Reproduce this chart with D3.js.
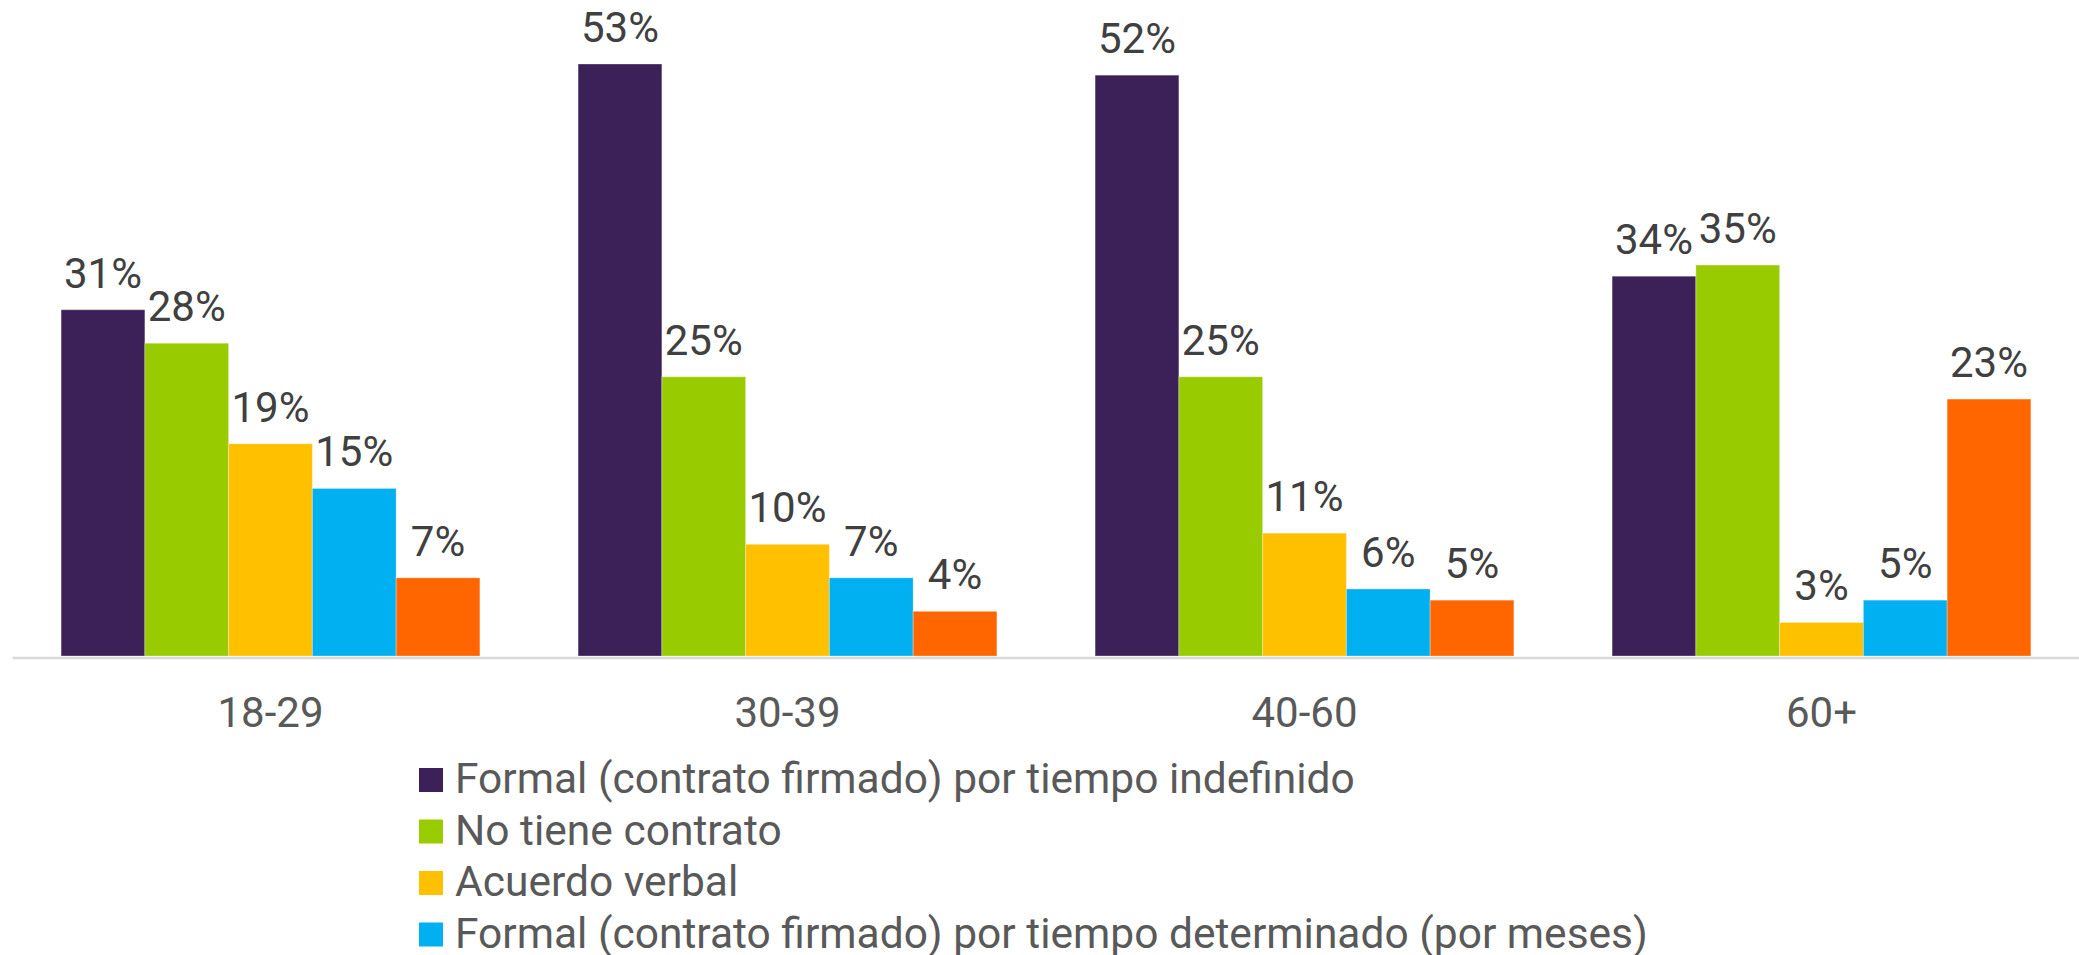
<!DOCTYPE html>
<html>
<head>
<meta charset="utf-8">
<script src="https://cdn.jsdelivr.net/npm/d3@7"></script>
<style>
  body { margin: 0; background: #fff; }
  svg { display: block; font-family: Roboto, "Noto Sans", sans-serif; }
</style>
</head>
<body>
<script>
const width = 2079;
const height = 955;

// data
const ageGroups = ["18-29", "30-39", "40-60", "60+"];
const seriesNames = [
  "Formal (contrato firmado) por tiempo indefinido",
  "No tiene contrato",
  "Acuerdo verbal",
  "Formal (contrato firmado) por tiempo determinado (por meses)",
  "Otro"
];
const seriesColors = ["#3c2058", "#99cc00", "#ffc000", "#00b0f0", "#ff6600"];
const indefinido = [31, 53, 52, 34];
const sinContrato = [28, 25, 25, 35];
const verbal = [19, 10, 11, 3];
const determinado = [15, 7, 6, 5];
const otro = [7, 4, 5, 23];

const seriesValues = [indefinido, sinContrato, verbal, determinado, otro];

let rows = [];
ageGroups.forEach((g, gi) => {
  seriesValues.forEach((vals, si) => {
    rows.push({ group: g, series: seriesNames[si], color: seriesColors[si], value: vals[gi] });
  });
});

let svg = d3
  .select("body")
  .append("svg")
  .attr("width", width)
  .attr("height", height);

let baseline = 656;

let xScale = d3
  .scaleBand()
  .domain(ageGroups)
  .range([12, 2080])
  .paddingInner(0.19)
  .paddingOuter(0.095);

let xInner = d3
  .scaleBand()
  .domain(seriesNames)
  .range([0, xScale.bandwidth()]);

let yScale = d3.scaleLinear().domain([0, 53]).range([baseline, 64]);

// bars
svg
  .append("g")
  .selectAll("rect")
  .data(rows)
  .join("rect")
  .attr("x", (d) => xScale(d.group) + xInner(d.series))
  .attr("y", (d) => yScale(d.value))
  .attr("width", xInner.bandwidth())
  .attr("height", (d) => yScale(0) - yScale(d.value))
  .attr("fill", (d) => d.color)
  .attr("stroke", "#ffffff")
  .attr("stroke-opacity", 0.3)
  .attr("stroke-width", 1);

// value labels
svg
  .append("g")
  .selectAll("text")
  .data(rows)
  .join("text")
  .attr("x", (d) => xScale(d.group) + xInner(d.series) + xInner.bandwidth() / 2)
  .attr("y", (d) => yScale(d.value) - 22)
  .attr("text-anchor", "middle")
  .attr("font-size", 42)
  .attr("fill", "#404040")
  .text((d) => d.value + "%");

// category axis
let xAxis = d3.axisBottom(xScale).tickSize(0).tickPadding(0);
let axisG = svg
  .append("g")
  .attr("transform", `translate(0, ${baseline + 1.5})`)
  .call(xAxis);
axisG.select(".domain").attr("stroke", "#d9d9d9").attr("stroke-width", 2.5);
axisG
  .selectAll(".tick text")
  .attr("dy", null)
  .attr("y", 69)
  .attr("font-size", 42)
  .attr("font-family", "Roboto, sans-serif")
  .attr("fill", "#595959");

// legend
let legend = svg
  .append("g")
  .attr("transform", "translate(419, 768)")
  .selectAll("g")
  .data(seriesNames)
  .join("g")
  .attr("transform", (d, i) => `translate(0, ${i * 51.5})`);

legend
  .append("rect")
  .attr("width", 24)
  .attr("height", 24)
  .attr("fill", (d, i) => seriesColors[i]);

legend
  .append("text")
  .attr("x", 36)
  .attr("y", 25)
  .attr("font-size", 42.5)
  .attr("fill", "#595959")
  .text((d) => d);
</script>
</body>
</html>
